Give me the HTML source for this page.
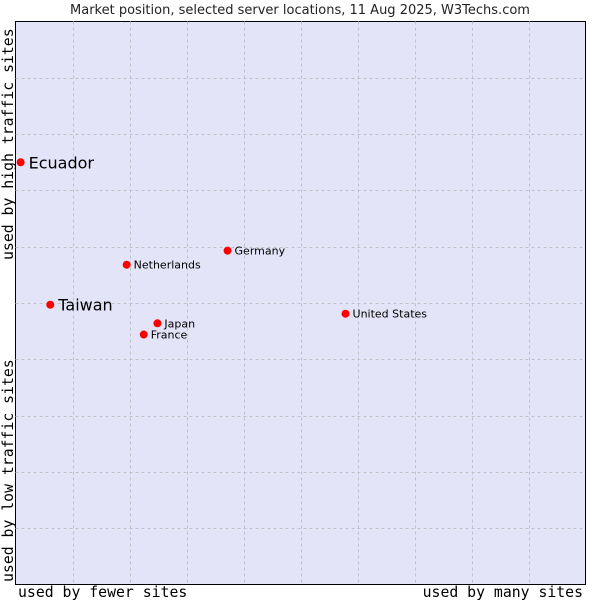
<!DOCTYPE html>
<html><head><meta charset="utf-8"><style>body{margin:0;background:#fff}svg{display:block}</style></head>
<body>
<svg id="chart" width="600" height="600" xmlns="http://www.w3.org/2000/svg">
<text x="300" y="14" text-anchor="middle" font-family="DejaVu Sans, sans-serif" font-size="13" fill="#222">Market position, selected server locations, 11 Aug 2025, W3Techs.com</text>
<rect x="15.5" y="21.5" width="570" height="563" fill="#e4e4f8" stroke="#000" stroke-width="1"/>
<g id="grid"></g>
<g id="points"></g>
<text transform="translate(13,260) rotate(-90)" font-family="DejaVu Sans Mono, monospace" font-size="14.8" fill="#000">used by high traffic sites</text>
<text transform="translate(13,582) rotate(-90)" font-family="DejaVu Sans Mono, monospace" font-size="14.8" fill="#000">used by low traffic sites</text>
<text x="18" y="597" font-family="DejaVu Sans Mono, monospace" font-size="14.8" fill="#000">used by fewer sites</text>
<text x="583" y="597" text-anchor="end" font-family="DejaVu Sans Mono, monospace" font-size="14.8" fill="#000">used by many sites</text>
</svg>
<script>
const countries = ["Ecuador","Taiwan","Netherlands","Germany","Japan","France","United States"];
const xValues = [0.9, 6.1, 19.5, 37.2, 24.9, 22.5, 57.9];
const yValues = [75.0, 49.7, 56.8, 59.3, 46.4, 44.4, 48.1];
const highlighted = [true, true, false, false, false, false, false];
const L=15.5,T=21.5,W=570,H=563;
const xs=v=>L+v/100*W, ys=v=>T+H-v/100*H;
const NS="http://www.w3.org/2000/svg";
const grid=document.getElementById('grid');
for(let i=1;i<10;i++){
  const v=document.createElementNS(NS,'line');
  
  
  const x=Math.round(xs(i*10))+0.5;
  v.setAttribute('x1',x);v.setAttribute('x2',x);v.setAttribute('y1',T);v.setAttribute('y2',T+H);
  v.setAttribute('stroke','#c0c0c8');v.setAttribute('stroke-dasharray','3,3');grid.appendChild(v);
  const h=document.createElementNS(NS,'line');
  
  
  const y=Math.round(ys(i*10))+0.5;
  h.setAttribute('y1',y);h.setAttribute('y2',y);h.setAttribute('x1',L);h.setAttribute('x2',L+W);
  h.setAttribute('stroke','#c0c0c8');h.setAttribute('stroke-dasharray','3,3');grid.appendChild(h);
}
const pts=document.getElementById('points');
countries.forEach((c,i)=>{
  const x=xs(xValues[i]),y=ys(yValues[i]);
  const d=document.createElementNS(NS,'circle');
  
  
  d.setAttribute('cx',x);d.setAttribute('cy',y);d.setAttribute('r',4);d.setAttribute('fill','#ff0000');
  pts.appendChild(d);
  const t=document.createElementNS(NS,'text');
  
  
  t.setAttribute('x',x+(highlighted[i]?8:7));t.setAttribute('y',y+(highlighted[i]?6:4));
  t.setAttribute('font-family','DejaVu Sans, sans-serif');
  t.setAttribute('font-size',highlighted[i]?16:11);t.setAttribute('fill','#000');
  t.textContent=c;pts.appendChild(t);
});
</script>
</body></html>
